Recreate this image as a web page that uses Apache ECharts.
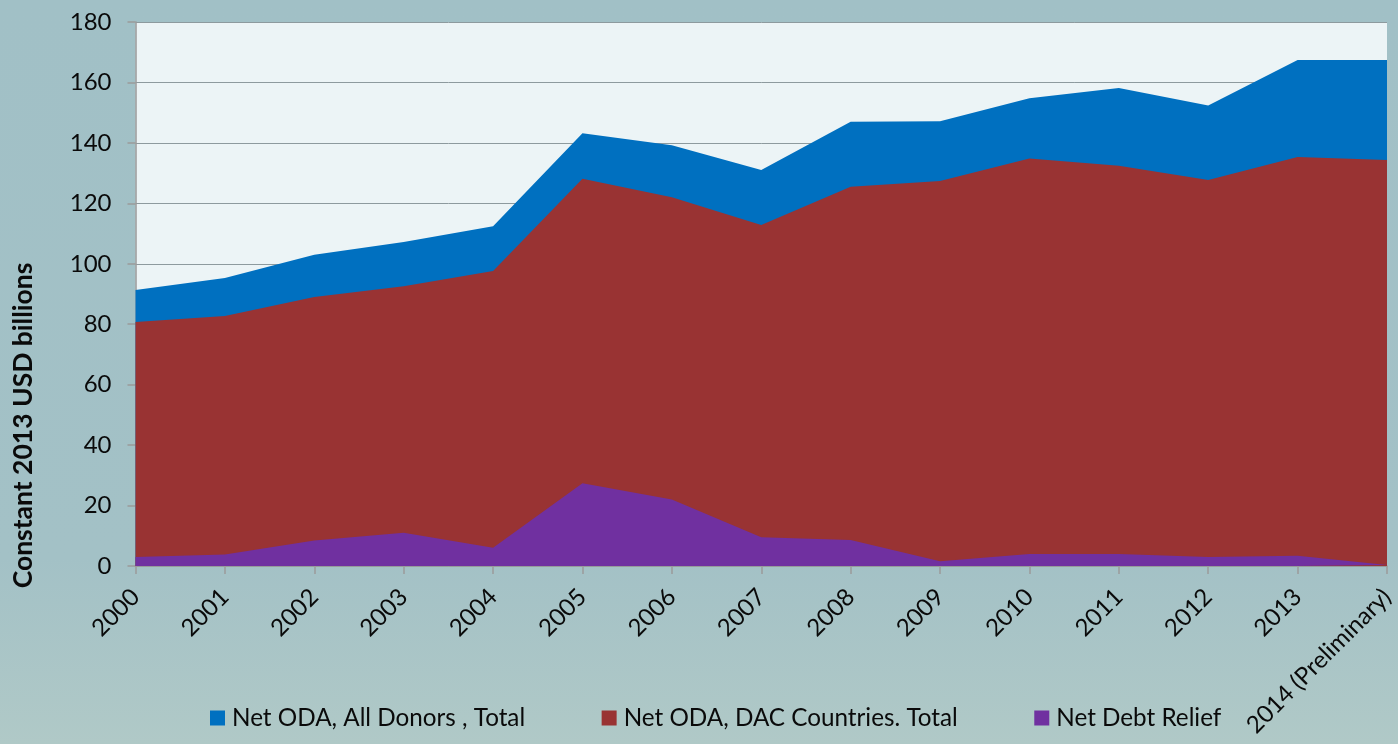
<!DOCTYPE html>
<html><head><meta charset="utf-8">
<style>html,body{margin:0;padding:0;background:#a3c1c6}#c{width:1398px;height:744px}</style>
<script src="https://cdn.jsdelivr.net/npm/echarts@6/dist/echarts.min.js"></script>
</head><body><div id="c"></div>
<script>
const categories = ['2000','2001','2002','2003','2004','2005','2006','2007','2008','2009','2010','2011','2012','2013','2014 (Preliminary)'];
const allDonors = [91.3,95.3,103,107.2,112.4,143.2,139.2,131,147,147.2,154.8,158.2,152.4,167.4,167.4];
const dacCountries = [80.7,82.7,89,92.6,97.6,128.1,122,112.8,125.5,127.4,134.8,132.4,127.7,135.3,134.3];
const debtRelief = [3,3.8,8.4,11,6,27.4,22,9.5,8.6,1.6,4,4,3,3.4,0.3];
const FONT = 'Lato, Carlito, "Open Sans", sans-serif';
const mk = (name, data, color) => ({
  name, data, type:'line', showSymbol:false, symbol:'none', silent:true,
  lineStyle:{width:0, color}, itemStyle:{color}, areaStyle:{color, opacity:1}
});
const chart = echarts.init(document.getElementById('c'));
chart.setOption({
  animation:false,
  backgroundColor:{type:'linear',x:0,y:0,x2:0,y2:1,colorStops:[{offset:0,color:'#a1c0c6'},{offset:0.75,color:'#a3c1c6'},{offset:1,color:'#b0c9c7'}]},
  textStyle:{fontFamily:FONT},
  grid:{left:135.5,right:11,top:22,bottom:178,show:true,backgroundColor:'#ecf4f6',borderWidth:0},
  legend:{
    left:205, top:701, itemWidth:15, itemHeight:15, itemGap:76.5, icon:'rect',
    textStyle:{fontFamily:FONT,fontSize:24.25,color:'#0a0a0a',padding:[0,0,0,2]},
    data:['Net ODA, All Donors , Total','Net ODA, DAC Countries. Total','Net Debt Relief']
  },
  xAxis:{
    type:'category', data:categories, boundaryGap:false,
    axisLine:{lineStyle:{color:'#9a9a9a',width:1.5}},
    axisTick:{show:true,length:8,lineStyle:{color:'#9a9a9a',width:1.5}},
    axisLabel:{rotate:45,fontSize:24,color:'#0a0a0a',margin:27,interval:0,fontFamily:FONT,hideOverlap:false}
  },
  yAxis:{
    type:'value', min:0, max:180, interval:20,
    name:'Constant 2013 USD billions', nameLocation:'middle', nameGap:99, nameRotate:90,
    nameTextStyle:{fontFamily:FONT,fontSize:26.5,fontWeight:'bold',color:'#0a0a0a',padding:[0,263,0,0]},
    axisLine:{show:true,lineStyle:{color:'#9a9a9a',width:1.5}},
    axisTick:{show:true,length:8,lineStyle:{color:'#9a9a9a',width:1.5}},
    axisLabel:{fontSize:24,color:'#0a0a0a',margin:24,fontFamily:FONT},
    splitLine:{show:true,lineStyle:{color:'#8d9a9e',width:1}}
  },
  series:[
    mk('Net ODA, All Donors , Total',allDonors,'#0070c0'),
    mk('Net ODA, DAC Countries. Total',dacCountries,'#993333'),
    mk('Net Debt Relief',debtRelief,'#7030a0')
  ]
});
</script></body></html>
